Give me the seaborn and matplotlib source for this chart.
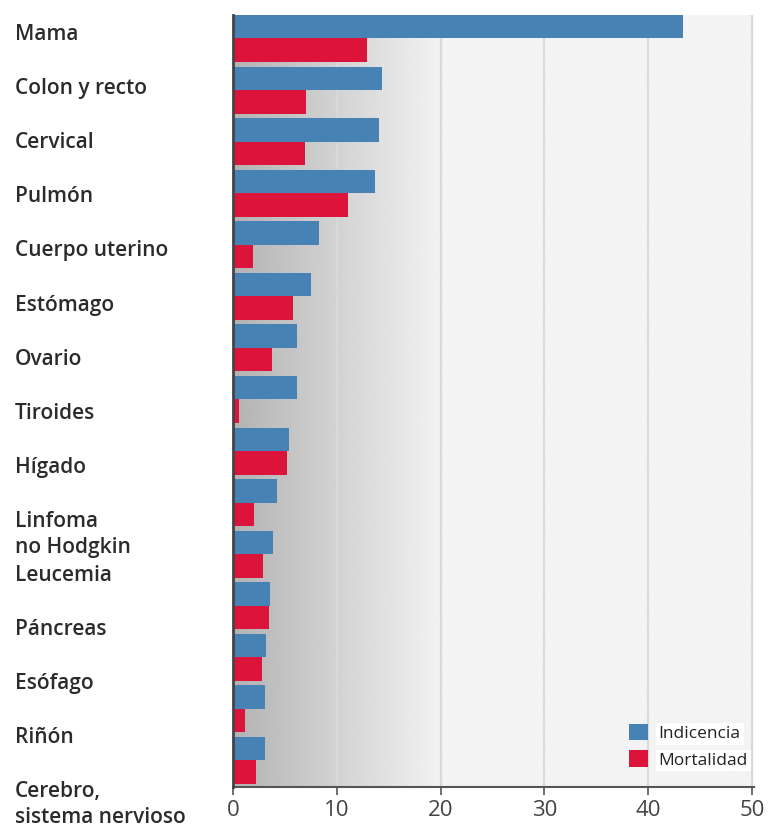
import numpy as np
import pandas as pd
import matplotlib
matplotlib.use("Agg")
import matplotlib.pyplot as plt
import seaborn as sns

categories = ["Mama", "Colon y recto", "Cervical", "Pulmón", "Cuerpo uterino",
              "Estómago", "Ovario", "Tiroides", "Hígado", "Linfoma\nno Hodgkin",
              "Leucemia", "Páncreas", "Esófago", "Riñón",
              "Cerebro,\nsistema nervioso"]
incidencia = [43.4, 14.4, 14.1, 13.7, 8.3, 7.5, 6.2, 6.2, 5.4, 4.2, 3.9, 3.6, 3.2, 3.1, 3.1]
mortalidad = [12.9, 7.0, 6.9, 11.1, 1.9, 5.8, 3.8, 0.6, 5.2, 2.0, 2.9, 3.5, 2.8, 1.2, 2.2]
series_names = ["Indicencia", "Mortalidad"]
xticks = [0, 10, 20, 30, 40, 50]

sns.set_theme(style="white")
plt.rcParams["font.family"] = ["Open Sans", "DejaVu Sans"]

df = pd.DataFrame({
    "cat": categories * 2,
    "val": incidencia + mortalidad,
    "serie": [series_names[0]] * len(categories) + [series_names[1]] * len(categories),
})

W, H = 771, 827
fig = plt.figure(figsize=(W / 100, H / 100), dpi=100)
ax = fig.add_axes([233 / W, 1 - 787 / H, 521 / W, 772 / H])

ytop, ybot = -0.4555, 14.514

# background gradient
xs = np.linspace(0, 50, 500)
vals = np.where(xs < 20, 0.70 + (0.95 - 0.70) * xs / 20, 0.955)
grad = np.tile(vals, (2, 1))
ax.imshow(grad, extent=[0, 50, ybot, ytop], aspect="auto", cmap="gray",
          vmin=0, vmax=1, zorder=0, interpolation="bilinear")

for gx in xticks[1:]:
    ax.axvline(gx, color="#d9d9d9", lw=1.6, zorder=1)

sns.barplot(data=df, y="cat", x="val", hue="serie", orient="h",
            palette=["#4682b4", "#dc143c"], saturation=1, width=0.911,
            gap=0, ax=ax, zorder=3, linewidth=0, order=categories,
            hue_order=series_names, legend=True)

ax.set_xlim(0, 50.2)
ax.set_ylim(ybot, ytop)
ax.set_xticks(xticks)
ax.set_xticklabels([str(t) for t in xticks], fontsize=16, color="#444444")
ax.set_yticks([])
ax.set_xlabel("")
ax.set_ylabel("")
ax.tick_params(axis="x", direction="out", length=6, width=1.2, color="#555555", pad=3, bottom=True)

for s in ["top", "right"]:
    ax.spines[s].set_visible(False)
ax.spines["left"].set_color("#444444")
ax.spines["left"].set_linewidth(2)
ax.spines["bottom"].set_color("#555555")
ax.spines["bottom"].set_linewidth(1.5)
ax.spines["left"].set_zorder(5)

# category labels (placed on a 54 px pitch as in reference)
for i, lab in enumerate(categories):
    ytop_px = 24 + i * 54.1
    fig.text(15 / W, 1 - ytop_px / H, lab, ha="left", va="top", fontsize=15,
             fontweight="semibold", color="#2b2b2b", linespacing=1.3)

leg = ax.legend(loc="lower right", bbox_to_anchor=(1.012, 0.008), frameon=False,
                fontsize=12.5, handlelength=1.1, handleheight=1.1,
                handletextpad=0.6, labelspacing=0.5, borderpad=0.2)
for t in leg.get_texts():
    t.set_color("#222222")
    t.set_bbox(dict(facecolor="white", edgecolor="none", pad=2))

fig.savefig("out.png", dpi=100)
